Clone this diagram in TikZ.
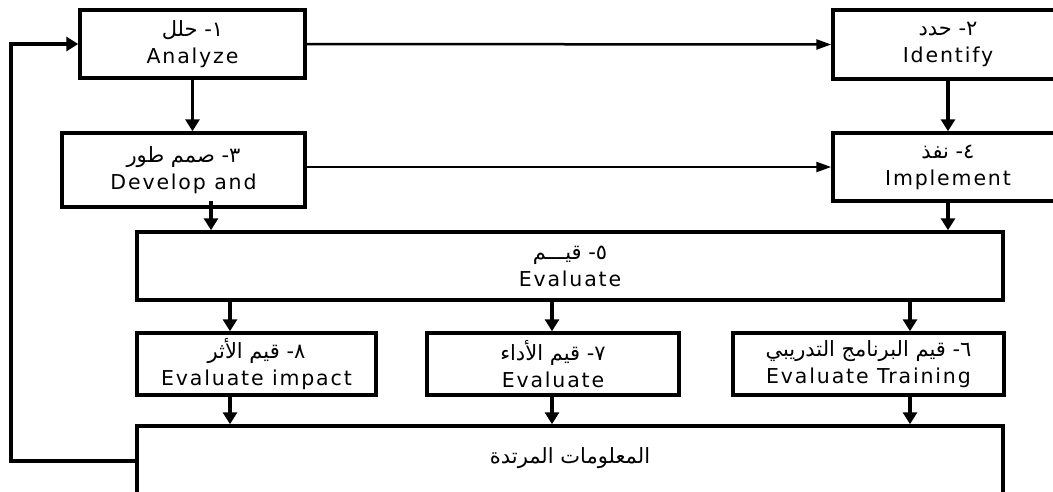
\documentclass[tikz,border=0pt]{standalone}
\usepackage{fontspec}
\setmainfont{DejaVu Sans}[LetterSpace=9]
\newfontfamily\arabicfont[Script=Arabic]{DejaVu Sans}
\usetikzlibrary{arrows.meta}
\TeXXeTstate=1

\tikzset{
  box/.style={draw, line width=3.5pt, inner sep=0pt, align=center,
    font=\fontsize{20.5}{27}\selectfont},
  vline/.style={line width=3.5pt, -{Triangle[length=12pt,width=14pt]}},
  hline/.style={line width=2.5pt, -{Triangle[length=15pt,width=10pt]}},
}
\newcommand{\ar}[1]{{\arabicfont\fontsize{21}{27}\selectfont\beginR #1\endR}}

\begin{document}
\begin{tikzpicture}[x=1pt, y=-1pt]
	\useasboundingbox (0,0) rectangle (1053,491);

	\node [box, minimum width=225, minimum height=68] (analyze) at (192.5,44) {\ar{١- حلل}\\Analyze};
	\node [box, minimum width=230, minimum height=69] (identify) at (948,44.5) {\ar{٢- حدد}\\Identify};
	\node [box, minimum width=243, minimum height=74] (develop) at (183.5,170) {\ar{٣- صمم طور}\\Develop and};
	\node [box, minimum width=230, minimum height=68] (implement) at (948,167) {\ar{٤- نفذ}\\Implement};
	\node [box, minimum width=866, minimum height=68] (evaluate) at (570,266) {\ar{٥- قيـــم}\\Evaluate};

	\node [box, minimum width=239, minimum height=62] (impact) at (256.5,364) {\ar{٨- قيم الأثر}\\Evaluate impact};
	\node [box, minimum width=252, minimum height=62] (perform) at (553,364) {\ar{٧- قيم الأداء}\\Evaluate};
	\node [box, minimum width=271, minimum height=62] (training) at (868.5,364) {\ar{٦- قيم البرنامج التدريبي}\\Evaluate Training};

	\node [box, minimum width=866, minimum height=90] (feedback) at (570,471) {};
	\node (fbtext) at (570,458) {\ar{المعلومات المرتدة}};

	\draw [hline] (analyze.east) -- (identify.west);
	\draw [hline] (develop.east |- implement.west) -- (implement.west);

	\draw [vline] (analyze.south) -- (analyze.south |- develop.north);
	\draw [vline] (identify.south) -- (identify.south |- implement.north);
	\draw [vline] (211,201) -- (211,0 |- evaluate.north);
	\draw [vline] (implement.south) -- (implement.south |- evaluate.north);

	\foreach \x in {230,552,910} {
		\draw [vline] (\x,0 |- evaluate.south) -- (\x,0 |- impact.north);
		\draw [vline] (\x,0 |- impact.south) -- (\x,0 |- feedback.north);
	}

	\coordinate (back) at (11,461);
	\draw [vline] (feedback.west |- back) -- (back) |- (analyze.west);
%	\draw [red, dashed] (0,0) rectangle (1053,491);
\end{tikzpicture}
\end{document}
